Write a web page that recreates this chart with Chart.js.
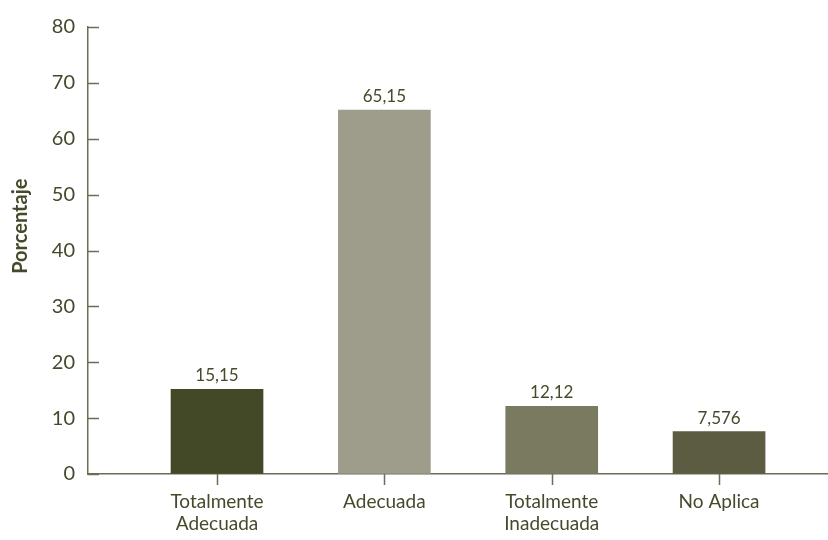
<!DOCTYPE html>
<html>
<head>
<meta charset="utf-8">
<script src="https://cdn.jsdelivr.net/npm/chart.js@4"></script>
<style>
  html, body { margin: 0; padding: 0; background: #fff; }
  #wrap { width: 828px; height: 540px; }
</style>
</head>
<body>
<div id="wrap"><canvas id="myBarChart"></canvas></div>
<script>
const categories = [
    ['Totalmente', 'Adecuada'],
    ['Adecuada'],
    ['Totalmente', 'Inadecuada'],
    ['No Aplica']
];
const values = [15.15, 65.15, 12.12, 7.576];
const valueLabels = ['15,15', '65,15', '12,12', '7,576'];
const barColors = ['#434826', '#9e9d8b', '#797a60', '#5b5c42'];
const yTicks = [0, 10, 20, 30, 40, 50, 60, 70, 80];

const textColor = '#444a2a';
const axisColor = '#6b6d55';
const fontFamily = 'Lato, "Open Sans", sans-serif';

// tick marks (inside for y, below for x) + value labels above bars
const extras = {
    id: 'extras',
    afterDraw(chart) {
        const ctx = chart.ctx;
        const area = chart.chartArea;
        const yScale = chart.scales.y;
        const xScale = chart.scales.x;
        ctx.save();
        ctx.strokeStyle = axisColor;
        ctx.lineWidth = 1.5;
        yScale.ticks.forEach(t => {
            const py = Math.round(yScale.getPixelForValue(t.value)) + 0.5;
            ctx.beginPath();
            ctx.moveTo(area.left, py);
            ctx.lineTo(area.left + 11, py);
            ctx.stroke();
        });
        xScale.ticks.forEach(t => {
            const px = Math.round(xScale.getPixelForValue(t.value)) + 0.5;
            ctx.beginPath();
            ctx.moveTo(px, area.bottom);
            ctx.lineTo(px, area.bottom + 11);
            ctx.stroke();
        });

        ctx.fillStyle = textColor;
        ctx.font = '17px ' + fontFamily;
        ctx.textAlign = 'center';
        ctx.textBaseline = 'bottom';
        chart.getDatasetMeta(0).data.forEach((bar, i) => {
            ctx.fillText(valueLabels[i], bar.x, bar.y - 5);
        });
        ctx.restore();
    }
};

const data = {
    datasets: [{
        label: 'Porcentaje',
        data: values.map((v, i) => ({ x: i, y: v })),
        backgroundColor: barColors,
        barThickness: 92
    }]
};

const config = {
    type: 'bar',
    data: data,
    options: {
        responsive: true,
        maintainAspectRatio: false,
        animation: false,
        layout: {
            padding: { top: 27, right: 0, left: 0, bottom: 0 }
        },
        scales: {
            x: {
                type: 'linear',
                min: -0.771,
                max: 3.651,
                offset: false,
                afterBuildTicks: scale => {
                    scale.ticks = categories.map((c, i) => ({ value: i }));
                },
                afterFit: scale => { scale.height = 66; },
                ticks: {
                    color: textColor,
                    font: { family: fontFamily, size: 19, lineHeight: 1.15 },
                    padding: 17,
                    maxRotation: 0,
                    autoSkip: false,
                    callback: (value) => categories[value] || ''
                },
                grid: {
                    offset: false,
                    drawOnChartArea: false,
                    drawTicks: false
                },
                border: { color: axisColor, width: 1.5 }
            },
            y: {
                min: 0,
                max: 80,
                afterBuildTicks: scale => {
                    scale.ticks = yTicks.map(v => ({ value: v }));
                },
                afterFit: scale => { scale.width = 88; },
                ticks: {
                    color: textColor,
                    font: { family: fontFamily, size: 20 },
                    padding: 13
                },
                grid: {
                    drawOnChartArea: false,
                    drawTicks: false
                },
                border: { color: axisColor, width: 1.5 },
                title: {
                    display: true,
                    text: '          Porcentaje',
                    color: textColor,
                    font: { family: fontFamily, size: 20, weight: 'bold' },
                    padding: { top: 9, bottom: 0 }
                }
            }
        },
        plugins: {
            legend: { display: false },
            tooltip: { enabled: false }
        }
    },
    plugins: [extras]
};

const ctx = document.getElementById('myBarChart').getContext('2d');
const myBarChart = new Chart(ctx, config);
</script>
</body>
</html>
